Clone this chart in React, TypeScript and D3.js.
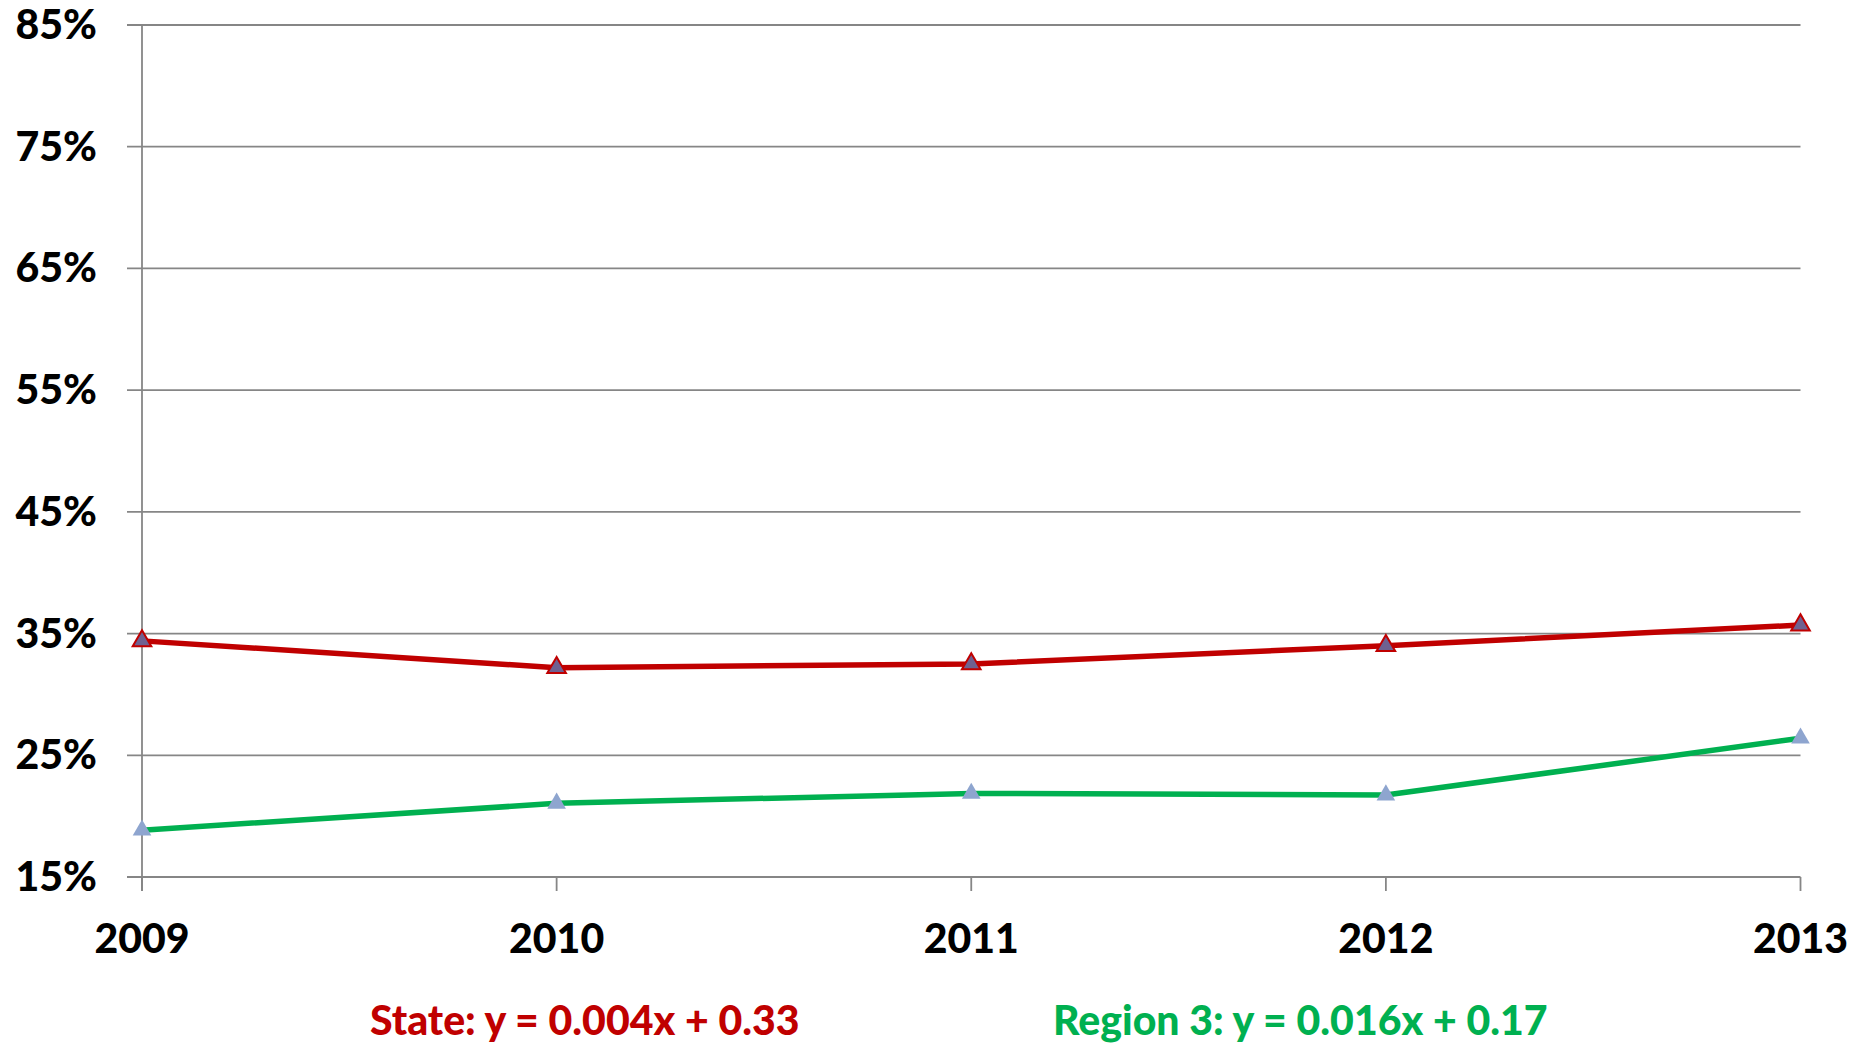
import React from "react";
import * as d3 from "d3";

const years = [2009, 2010, 2011, 2012, 2013];
const stateValues = [0.344, 0.322, 0.325, 0.340, 0.357];
const regionValues = [0.1885, 0.2105, 0.2187, 0.2173, 0.264];
const yTicks = [0.15, 0.25, 0.35, 0.45, 0.55, 0.65, 0.75, 0.85];
const stateLabel = "State: y = 0.004x + 0.33";
const regionLabel = "Region 3: y = 0.016x + 0.17";

const W = 1866;
const H = 1045;
const FONT = "Lato, 'Open Sans', sans-serif";
const FS = 41;

export default function App() {
  const x = d3.scalePoint<number>().domain(years).range([142, 1800.5]);
  const y = d3.scaleLinear().domain([0.15, 0.85]).range([877, 25]);
  const line = d3
    .line<number>()
    .x((_, i) => x(years[i]) as number)
    .y((d) => y(d));
  const tri = d3.symbol().type(d3.symbolTriangle).size(150)() as string;
  const fmt = d3.format(".0%");

  return (
    <svg
      width={W}
      height={H}
      style={{ position: "absolute", left: 0, top: 0, background: "#fff" }}
    >
      {yTicks.map((t) => (
        <g key={t}>
          <line x1={127} x2={1800.5} y1={y(t)} y2={y(t)} stroke="#868686" strokeWidth={1.8} />
          <text
            x={97}
            y={y(t) + 14}
            textAnchor="end"
            fontFamily={FONT}
            fontWeight={900}
            fontSize={FS}
            fill="#000"
          >
            {fmt(t)}
          </text>
        </g>
      ))}
      <line x1={142} x2={142} y1={25} y2={891} stroke="#868686" strokeWidth={1.8} />
      {years.map((yr) => (
        <g key={yr}>
          <line x1={x(yr)} x2={x(yr)} y1={877} y2={891} stroke="#868686" strokeWidth={1.8} />
          <text
            x={x(yr)}
            y={953}
            textAnchor="middle"
            fontFamily={FONT}
            fontWeight={900}
            fontSize={FS}
            fill="#000"
          >
            {yr}
          </text>
        </g>
      ))}
      <path d={line(regionValues) as string} fill="none" stroke="#00B050" strokeWidth={5.5} strokeLinejoin="round" />
      <path d={line(stateValues) as string} fill="none" stroke="#C00000" strokeWidth={5.5} strokeLinejoin="round" />
      {regionValues.map((v, i) => (
        <path key={"r" + i} d={tri} transform={`translate(${x(years[i])},${y(v)})`} fill="#8EA5CF" />
      ))}
      {stateValues.map((v, i) => (
        <path
          key={"s" + i}
          d={tri}
          transform={`translate(${x(years[i])},${y(v)})`}
          fill="#6F6191"
          stroke="#C00000"
          strokeWidth={2}
        />
      ))}
      <text x={370} y={1035} fontFamily={FONT} fontWeight={900} fontSize={FS} fill="#C00000">
        {stateLabel}
      </text>
      <text x={1053} y={1035} fontFamily={FONT} fontWeight={900} fontSize={FS} fill="#00B050">
        {regionLabel}
      </text>
    </svg>
  );
}
